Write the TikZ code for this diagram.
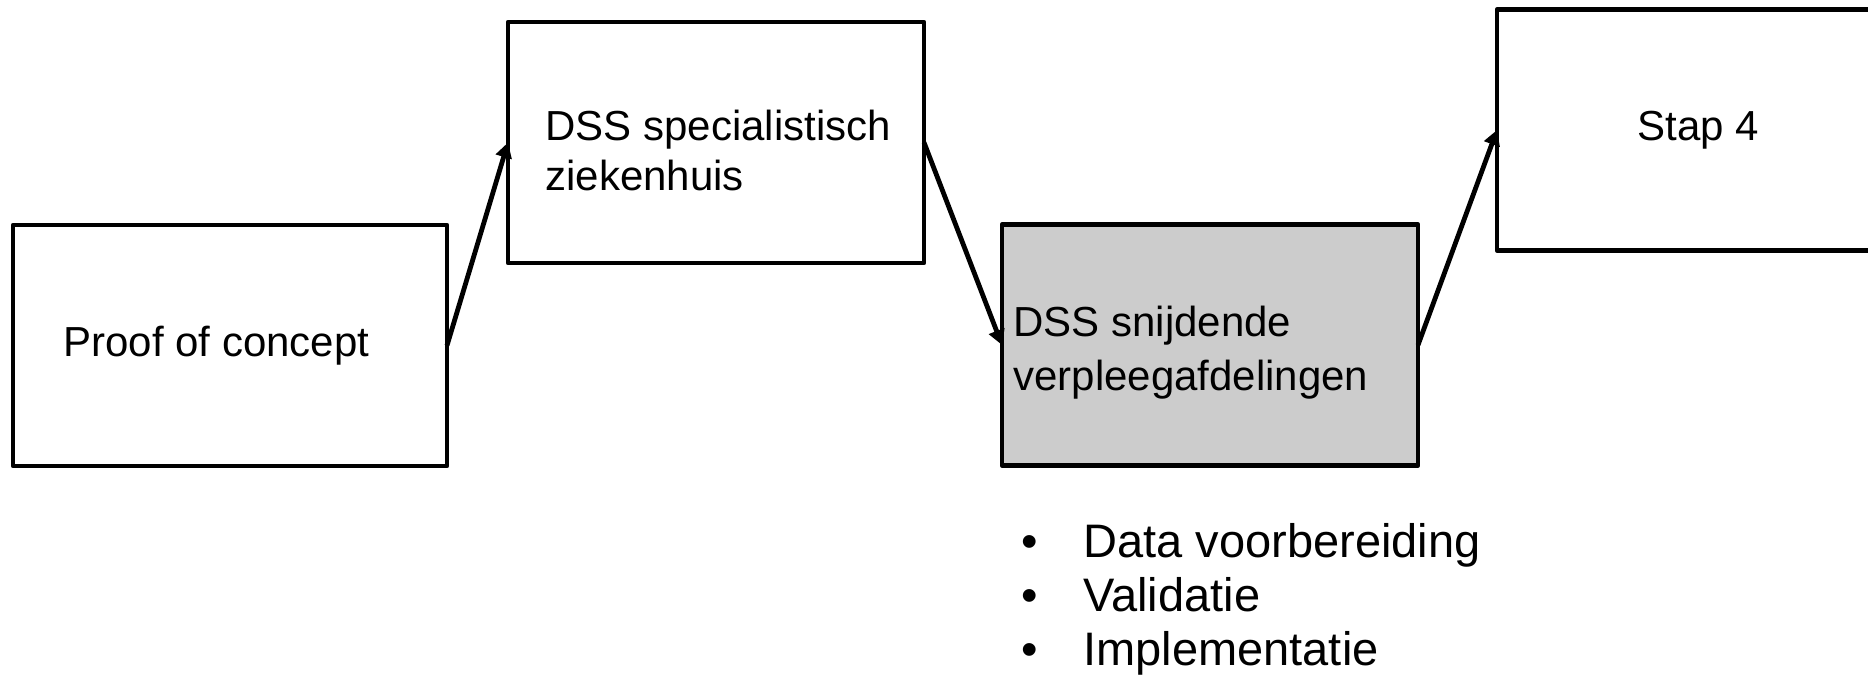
\documentclass[tikz,border=0pt]{standalone}
\usepackage{fontspec}
\setmainfont{Liberation Sans}
\usetikzlibrary{arrows.meta}
\definecolor{boxgray}{RGB}{204,204,204}
\begin{document}
\begin{tikzpicture}[x=0.5pt,y=-0.5pt,
  stepbox/.style={draw=black, line width=2.4pt, line join=round,
    minimum width=#1, minimum height=120.5pt, inner sep=0pt, outer sep=0pt},
  boxtext/.style={font=\fontsize{21}{25}\selectfont, align=left,
    inner sep=0pt, anchor=west},
  bullettext/.style={font=\fontsize{23.5}{27}\selectfont, inner sep=0pt,
    anchor=base west},
  arr/.style={line width=2.4pt, -{Triangle[length=7.5pt,width=8pt]}}]
  % page area
  \useasboundingbox (0,0) rectangle (1868,682);
  \clip (0,0) rectangle (1868,682);
  \fill[white] (0,0) rectangle (1868,682);

  % step boxes
  \node[stepbox=217pt] (b1) at (230,345.5) {};
  \node[stepbox=208pt] (b2) at (716,142.5) {};
  \node[stepbox=208pt, fill=boxgray] (b3) at (1210,345) {};
  \node[stepbox=201.5pt] (b4) at (1698.5,130) {};

  % box labels
  \node[boxtext] (t1) at ([xshift=25pt]b1.west) {Proof of concept};
  \node[boxtext] (t2) at ([xshift=18.5pt,yshift=-4pt]b2.west) {DSS specialistisch\\ziekenhuis};
  \node[boxtext, font=\fontsize{21}{27}\selectfont] (t3) at ([xshift=5.5pt,yshift=-4pt]b3.west) {DSS snijdende\\verpleegafdelingen};
  \node[boxtext, anchor=center] (t4) at (b4.center) {Stap 4};

  % connectors
  \draw[arr] (b1.east) -- (b2.west);
  \draw[arr] (b2.east) -- (b3.west);
  \draw[arr] (b3.east) -- (b4.west);

  % activities of the third step
  \node[bullettext] (l1) at (1021,557) {\makebox[31pt][l]{•}Data voorbereiding};
  \node[bullettext] (l2) at (1021,611) {\makebox[31pt][l]{•}Validatie};
  \node[bullettext] (l3) at (1021,665) {\makebox[31pt][l]{•}Implementatie};
\end{tikzpicture}
\end{document}
